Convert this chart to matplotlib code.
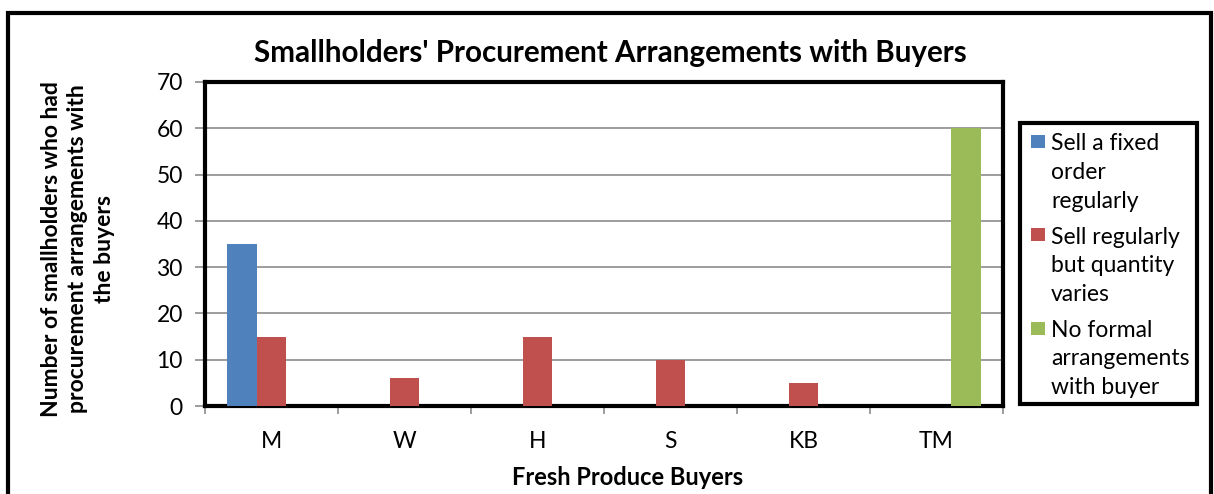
import matplotlib.pyplot as plt
import numpy as np
from matplotlib.patches import Rectangle

categories = ["M", "W", "H", "S", "KB", "TM"]
series_names = ["Sell a fixed\norder\nregularly",
                "Sell regularly\nbut quantity\nvaries",
                "No formal\narrangements\nwith buyer"]
fixed_order = [35, 0, 0, 0, 0, 0]
regular_varies = [15, 6, 15, 10, 5, 0]
no_formal = [0, 0, 0, 0, 0, 60]
colors = ["#4F81BD", "#C0504D", "#9BBB59"]
yticks = [0, 10, 20, 30, 40, 50, 60, 70]

plt.rcParams['font.family'] = ['Lato', 'DejaVu Sans']

W, H = 1214, 494
fig = plt.figure(figsize=(W / 100, H / 100), dpi=100)

# outer frame
fig.patches.append(Rectangle((8 / W, -0.05), (1211 - 8) / W, 1.05 - 13 / H,
                             transform=fig.transFigure, fill=False,
                             edgecolor='black', linewidth=3))

ax = fig.add_axes([205 / W, 1 - 406 / H, (1003 - 205) / W, (406 - 82) / H])
x = np.arange(len(categories))
bw = 1 / 4.5
data = [fixed_order, regular_varies, no_formal]
for i, (vals, c, name) in enumerate(zip(data, colors, series_names)):
    ax.bar(x + (i - 1) * bw, vals, width=bw, color=c, label=name, zorder=3)

ax.set_xlim(-0.5, len(categories) - 0.5)
ax.set_ylim(0, 70)
ax.set_yticks(yticks)
ax.yaxis.grid(True, color='#8C8C8C', linewidth=1.2, zorder=0)
ax.set_xticks(x)
ax.set_xticklabels(categories, fontsize=16.5)
ax.set_xticks(np.arange(-0.5, len(categories), 1), minor=True)
ax.tick_params(axis='x', which='major', length=0, pad=18)
ax.tick_params(axis='x', which='minor', length=6, color='#8C8C8C', width=1.2, direction='out')
ax.tick_params(axis='y', labelsize=16.5, length=7, color='#8C8C8C', width=1.2, pad=9)
for s in ax.spines.values():
    s.set_linewidth(3)
    s.set_color('black')

fig.text(628 / W, 1 - 477 / H, "Fresh Produce Buyers", ha='center', va='center',
         fontsize=17, fontweight='bold')
fig.text(78 / W, 1 - 249 / H, "Number of smallholders who had\nprocurement arrangements with\nthe buyers",
         rotation=90, ha='center', va='center', fontsize=16.5, fontweight='bold',
         linespacing=1.32)
fig.text(610 / W, 1 - 53 / H, "Smallholders' Procurement Arrangements with Buyers",
         ha='center', va='center', fontsize=21.3, fontweight='bold')

# legend box (drawn manually to match layout)
fig.patches.append(Rectangle((1020 / W, 1 - 404 / H), (1197 - 1020) / W, (404 - 123) / H,
                             transform=fig.transFigure, fill=False,
                             edgecolor='black', linewidth=3, zorder=5))
entry_top = [142, 235, 328]
line_step = 28.5
for name, c, y0 in zip(series_names, colors, entry_top):
    fig.patches.append(Rectangle((1031 / W, 1 - (y0 + 6.5) / H), 14 / W, 13 / H,
                                 transform=fig.transFigure, facecolor=c,
                                 edgecolor='none'))
    for k, line in enumerate(name.split("\n")):
        fig.text(1051 / W, 1 - (y0 + k * line_step) / H, line,
                 ha='left', va='center_baseline', fontsize=16.5)

fig.savefig("out.png", dpi=100)
